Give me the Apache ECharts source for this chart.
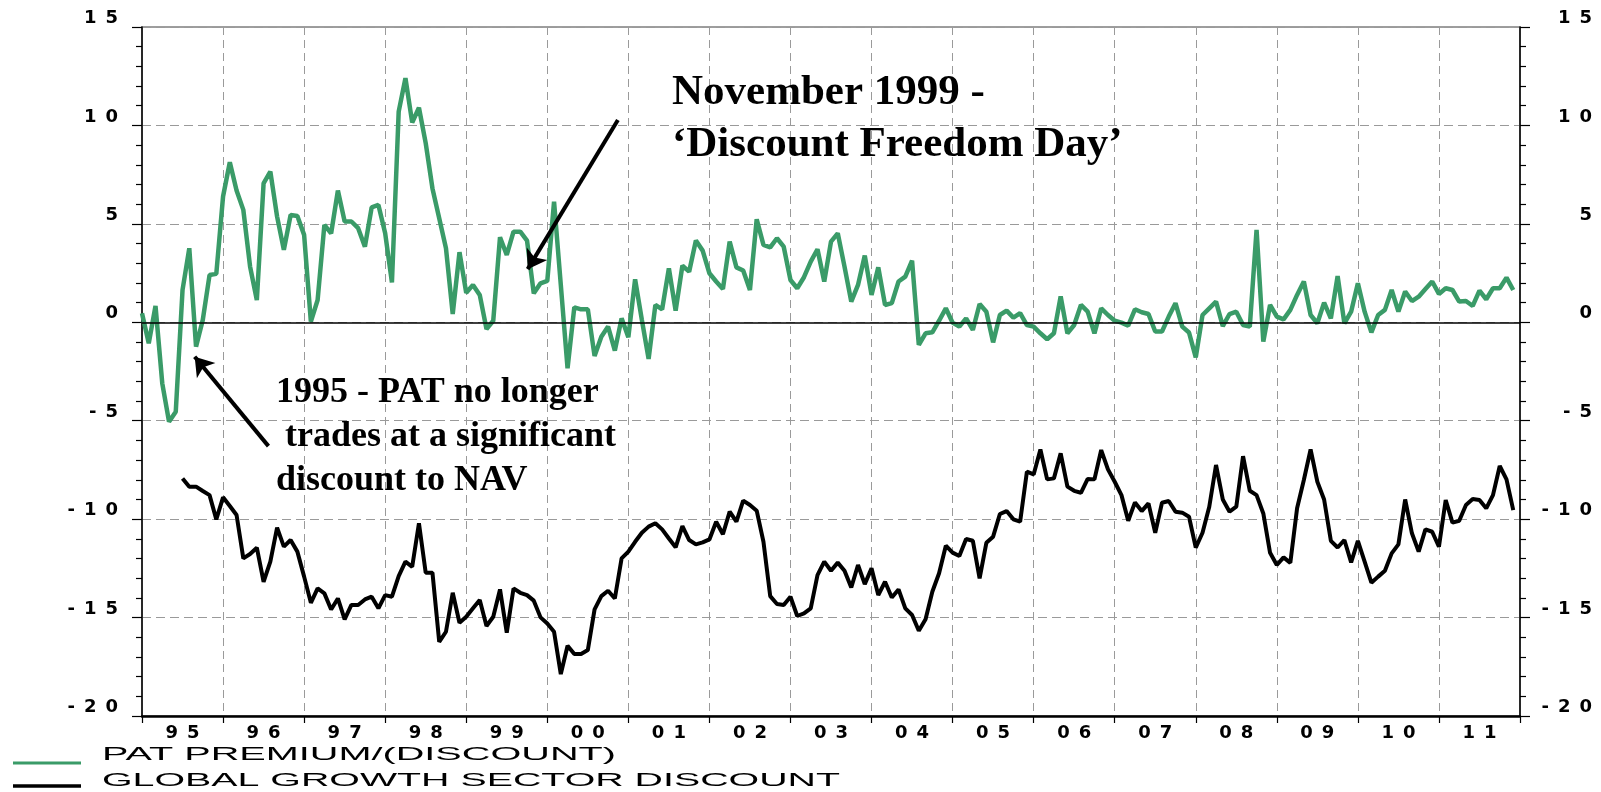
<!DOCTYPE html>
<html lang="en">
<head>
    <meta charset="UTF-8"/>
    <title>PAT premium / discount vs global growth sector discount</title>
    <script src="https://cdn.jsdelivr.net/npm/echarts@6/dist/echarts.min.js"></script>
    <style>
        html, body { margin: 0; padding: 0; background: #ffffff; }
        #chart { width: 1601px; height: 792px; }
    </style>
</head>
<body>
    <div id="chart"></div>

    <script>
        // month index 0 = Jan 1995, one point per month
        const yearLabels = ['95', '96', '97', '98', '99', '00', '01', '02', '03', '04', '05', '06', '07', '08', '09', '10', '11'];
        const yTicks = [-20, -15, -10, -5, 0, 5, 10, 15];

        // PAT premium/(discount), Jan 1995 .. Dec 2011
        const patPremium = [
            0.46, -1.07, 0.83, -3.1, -5.05, -4.54, 1.64, 3.76, -1.24, 0.12, 2.4, 2.46,
            6.39, 8.13, 6.69, 5.71, 2.83, 1.13, 7.06, 7.66, 5.37, 3.68, 5.45, 5.4,
            4.44, 0.03, 1.13, 4.95, 4.52, 6.69, 5.12, 5.12, 4.78, 3.84, 5.84, 5.96,
            4.52, 2.02, 10.7, 12.4, 10.15, 10.9, 9.1, 6.8, 5.28, 3.76, 0.42, 3.56,
            1.5, 1.9, 1.39, -0.34, 0.08, 4.32, 3.42, 4.6, 4.6, 4.15, 1.47, 1.98,
            2.1, 6.13, 1.9, -2.34, 0.76, 0.66, 0.66, -1.71, -0.73, -0.22, -1.44, 0.2,
            -0.76, 2.18, 0.12, -1.86, 0.88, 0.66, 2.74, 0.59, 2.88, 2.57, 4.15, 3.64,
            2.49, 2.07, 1.69, 4.1, 2.79, 2.63, 1.64, 5.23, 3.93, 3.81, 4.27, 3.84,
            2.15, 1.73, 2.29, 3.08, 3.71, 2.07, 4.1, 4.52, 2.83, 1.05, 1.9, 3.39,
            1.39, 2.79, 0.88, 0.97, 2.07, 2.32, 3.13, -1.15, -0.56, -0.51, 0.08, 0.71,
            -0.02, -0.22, 0.2, -0.39, 0.93, 0.54, -1.02, 0.37, 0.59, 0.24, 0.46, -0.14,
            -0.22, -0.56, -0.86, -0.56, 1.32, -0.56, -0.14, 0.88, 0.54, -0.56, 0.71, 0.37,
            0.08, -0.02, -0.17, 0.66, 0.51, 0.42, -0.47, -0.47, 0.29, 0.97, -0.22, -0.52,
            -1.78, 0.37, 0.71, 1.05, -0.19, 0.42, 0.54, -0.14, -0.22, 4.69, -0.98, 0.88,
            0.29, 0.15, 0.63, 1.39, 2.07, 0.37, -0.05, 1.0, 0.2, 2.35, -0.05, 0.54,
            1.98, 0.54, -0.51, 0.37, 0.63, 1.64, 0.54, 1.56, 1.08, 1.3, 1.69, 2.07,
            1.44, 1.73, 1.64, 1.05, 1.08, 0.83, 1.61, 1.17, 1.73, 1.73, 2.27, 1.64
        ];

        // global growth sector discount, starts Jul 1995
        const ggsStart = 6;
        const ggsDiscount = [
            -7.93, -8.35, -8.35, -8.57, -8.78, -10.01,
            -8.89, -9.33, -9.79, -11.99, -11.77, -11.45, -13.18, -12.16, -10.43, -11.4, -11.06, -11.65,
            -12.92, -14.25, -13.52, -13.77, -14.59, -14.03, -15.09, -14.36, -14.36, -14.08, -13.94, -14.53,
            -13.86, -13.94, -12.89, -12.16, -12.42, -10.21, -12.72, -12.72, -16.23, -15.72, -13.74, -15.26,
            -14.96, -14.53, -14.11, -15.43, -14.96, -13.57, -15.77, -13.52, -13.74, -13.86, -14.14, -14.99,
            -15.3, -15.72, -17.87, -16.43, -16.85, -16.85, -16.65, -14.58, -13.91, -13.64, -14.03, -11.99,
            -11.65, -11.15, -10.69, -10.38, -10.21, -10.52, -10.98, -11.43, -10.35, -11.06, -11.28, -11.18,
            -11.03, -10.13, -10.77, -9.62, -10.13, -9.06, -9.28, -9.57, -11.15, -13.91, -14.31, -14.36,
            -13.94, -14.92, -14.79, -14.53, -12.84, -12.16, -12.62, -12.21, -12.62, -13.47, -12.33, -13.3,
            -12.5, -13.86, -13.18, -13.98, -13.57, -14.53, -14.87, -15.67, -15.09, -13.69, -12.75, -11.35,
            -11.7, -11.87, -11.01, -11.1, -13.01, -11.2, -10.89, -9.74, -9.59, -10.01, -10.13, -7.59,
            -7.73, -6.46, -7.98, -7.93, -6.66, -8.35, -8.56, -8.66, -7.96, -7.98, -6.49, -7.47,
            -8.1, -8.78, -10.08, -9.15, -9.59, -9.2, -10.69, -9.17, -9.08, -9.62, -9.67, -9.88,
            -11.45, -10.69, -9.37, -7.25, -9.0, -9.62, -9.37, -6.8, -8.56, -8.78, -9.71, -11.71,
            -12.33, -11.94, -12.22, -9.45, -8.01, -6.46, -8.1, -9.0, -11.1, -11.44, -11.06, -12.2,
            -11.1, -12.16, -13.23, -12.92, -12.62, -11.74, -11.28, -9.0, -10.72, -11.65, -10.52, -10.64,
            -11.4, -9.03, -10.18, -10.08, -9.28, -8.98, -9.03, -9.45, -8.78, -7.3, -7.98, -9.54
        ];

        const legendNames = ['PAT PREMIUM/(DISCOUNT)', 'GLOBAL GROWTH SECTOR DISCOUNT'];
        const noteNov = ['November 1999 -', '\u2018Discount Freedom Day\u2019'];
        const note1995 = ['1995 - PAT no longer', ' trades at a significant', 'discount to NAV'];

        // arrow ends in data coords [month, value]; the second point is the tip
        const arrowNov = [[70.45, 10.28], [57.1, 2.7]];
        const arrow1995 = [[18.72, -6.29], [7.8, -1.75]];

        const GREEN = '#3a9b68';
        const GRID_GRAY = '#9a9a9a';

        const chart = echarts.init(document.getElementById('chart'));

        // wide, spaced-out axis digits (en space between characters)
        function spaced(v) {
            return String(v).split('').join('\u2002');
        }
        const labelFont = { fontFamily: 'DejaVu Sans', fontSize: 18, fontWeight: 'bold', color: '#000' };

        // stretch legend words to the width they take in the original
        const mctx = document.createElement('canvas').getContext('2d');
        function stretch(text, font, target) {
            mctx.font = font;
            return target / mctx.measureText(text).width;
        }

        function yAxisCfg(pos, margin) {
            return {
                type: 'value', position: pos, min: -20, max: 15, interval: 5,
                axisLine: { show: true, lineStyle: { color: '#000', width: 1.5 } },
                axisTick: { show: true, length: 10, lineStyle: { color: '#000', width: 1.2 } },
                minorTick: { show: true, splitNumber: 5, length: 6, lineStyle: { color: '#000', width: 1.2 } },
                axisLabel: {
                    ...labelFont, lineHeight: 17, margin: margin, align: 'right', verticalAlign: 'bottom',
                    formatter: v => yTicks.includes(v) ? spaced(v) : ''
                },
                splitLine: { show: pos === 'left', lineStyle: { color: GRID_GRAY, width: 1, type: [9, 5] } }
            };
        }

        const legendFont = '19px "Liberation Sans"';
        const noteFontA = 'bold 43px "Liberation Serif"';
        const noteFontB = 'bold 36px "Liberation Serif"';

        function textEl(x, y, text, font, scaleX) {
            return {
                type: 'text', x: x, y: y, scaleX: scaleX || 1, silent: true, z: 50,
                style: {
                    text: text, font: font, fill: '#000',
                    align: 'left', textAlign: 'left',
                    verticalAlign: 'middle', textVerticalAlign: 'middle'
                }
            };
        }

        const graphics = [
            { type: 'line', silent: true, shape: { x1: 13, y1: 763, x2: 81, y2: 763 }, style: { stroke: GREEN, lineWidth: 3 } },
            { type: 'line', silent: true, shape: { x1: 13, y1: 786, x2: 81, y2: 786 }, style: { stroke: '#000', lineWidth: 3.5 } },
            textEl(102, 754.5, legendNames[0], legendFont, stretch(legendNames[0], legendFont, 514)),
            textEl(102, 781, legendNames[1], legendFont, stretch(legendNames[1], legendFont, 738)),
            textEl(672, 92.5, noteNov[0], noteFontA),
            textEl(672, 144.5, noteNov[1], noteFontA),
            textEl(276, 392.5, note1995[0], noteFontB),
            textEl(276, 436.5, note1995[1], noteFontB),
            textEl(276, 480.5, note1995[2], noteFontB)
        ];

        chart.setOption({
            animation: false,
            backgroundColor: '#ffffff',
            grid: {
                left: 142, right: 81, top: 27, bottom: 76,
                show: true, borderColor: '#7f7f7f', borderWidth: 1.5, backgroundColor: 'transparent'
            },
            xAxis: [
                {
                    type: 'value', min: 0, max: 204, interval: 12, position: 'bottom',
                    axisLine: { show: true, onZero: false, lineStyle: { color: '#000', width: 2.5 } },
                    axisTick: { show: true, length: 7, lineStyle: { color: '#000', width: 1.2 } },
                    axisLabel: { show: false },
                    splitLine: { show: true, lineStyle: { color: GRID_GRAY, width: 1, type: [8, 5] } }
                },
                {
                    type: 'category', data: yearLabels, position: 'bottom', boundaryGap: true,
                    axisLine: { show: false }, axisTick: { show: false }, splitLine: { show: false },
                    axisLabel: { ...labelFont, margin: 8, interval: 0, formatter: v => spaced(v) }
                }
            ],
            yAxis: [yAxisCfg('left', 24), yAxisCfg('right', 72)],
            series: [
                {
                    name: legendNames[1], type: 'line', xAxisIndex: 0, yAxisIndex: 0,
                    data: ggsDiscount.map((v, i) => [i + ggsStart, v]),
                    symbol: 'none', lineStyle: { color: '#000', width: 4 }, z: 3,
                    markLine: {
                        silent: true, symbol: ['none', 'none'], animation: false,
                        label: { show: false }, emphasis: { disabled: true },
                        lineStyle: { color: '#000', width: 1.5, type: 'solid' },
                        data: [{ yAxis: 0 }]
                    }
                },
                {
                    name: legendNames[0], type: 'line', xAxisIndex: 0, yAxisIndex: 0,
                    data: patPremium.map((v, i) => [i, v]),
                    symbol: 'none', lineStyle: { color: GREEN, width: 4.5 }, z: 4,
                    markLine: {
                        silent: true, symbol: ['none', 'arrow'], symbolSize: 18, animation: false,
                        label: { show: false }, emphasis: { disabled: true },
                        lineStyle: { color: '#000', width: 4, type: 'solid' },
                        itemStyle: { color: '#000' },
                        data: [
                            [{ coord: arrowNov[0] }, { coord: arrowNov[1] }],
                            [{ coord: arrow1995[0] }, { coord: arrow1995[1] }]
                        ]
                    }
                }
            ],
            graphic: graphics
        });

        window.addEventListener('resize', () => chart.resize());
    </script>
</body>
</html>
